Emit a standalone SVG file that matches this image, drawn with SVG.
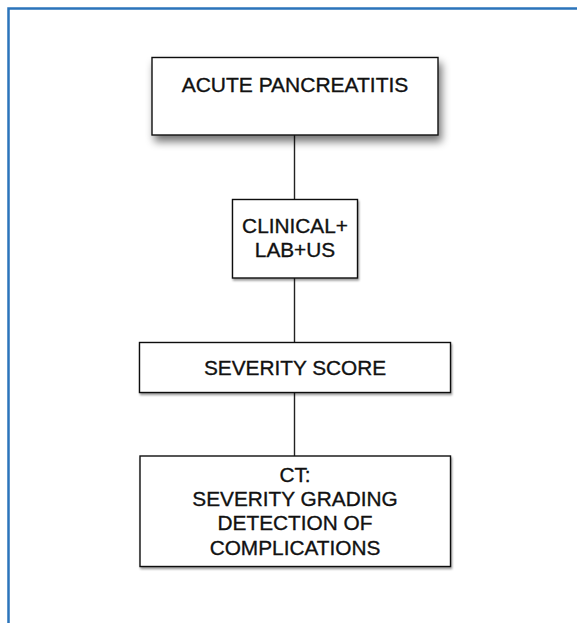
<svg xmlns="http://www.w3.org/2000/svg" width="577" height="623" viewBox="0 0 577 623">
  <defs>
    <filter id="shadowBig" x="-20%" y="-30%" width="140%" height="170%">
      <feGaussianBlur in="SourceAlpha" stdDeviation="4"/>
      <feOffset dx="3" dy="6" result="b"/>
      <feComponentTransfer><feFuncA type="linear" slope="0.55"/></feComponentTransfer>
      <feMerge><feMergeNode/><feMergeNode in="SourceGraphic"/></feMerge>
    </filter>
    <filter id="shadowSmall" x="-10%" y="-10%" width="120%" height="130%">
      <feGaussianBlur in="SourceAlpha" stdDeviation="0.8"/>
      <feOffset dx="1" dy="1.5" result="b"/>
      <feComponentTransfer><feFuncA type="linear" slope="0.4"/></feComponentTransfer>
      <feMerge><feMergeNode/><feMergeNode in="SourceGraphic"/></feMerge>
    </filter>
  </defs>
  <style>
    .box { fill: #ffffff; stroke: #111111; stroke-width: 1.4; }
    .lbl { font-family: "Liberation Sans", Arial, Helvetica, sans-serif; font-size: 20.8px; fill: #111111; stroke: #111111; stroke-width: 0.35; text-anchor: middle; }
    .conn { stroke: #222222; stroke-width: 1.4; fill: none; }
    .frame { stroke: #2b74bb; stroke-width: 2.5; fill: none; }
  </style>
  <rect width="577" height="623" fill="#ffffff"/>
  <!-- page frame -->
  <path class="frame" d="M8.5,623 V8.5 H577"/>

  <g id="connectors">
    <line class="conn" x1="294.5" y1="135" x2="294.5" y2="199.5"/>
    <line class="conn" x1="294.5" y1="278" x2="294.5" y2="342.5"/>
    <line class="conn" x1="294.5" y1="393" x2="294.5" y2="456"/>
  </g>

  <g id="acute-pancreatitis">
    <rect class="box" x="152" y="57.5" width="286" height="77.5" filter="url(#shadowBig)"/>
    <text class="lbl" x="295" y="91.7" style="font-size:21px">ACUTE PANCREATITIS</text>
  </g>

  <g id="clinical-lab-us">
    <rect class="box" x="232.5" y="199.5" width="125" height="78.5" filter="url(#shadowSmall)"/>
    <text class="lbl" x="295" y="232.7">CLINICAL+</text>
    <text class="lbl" x="295" y="256.7">LAB+US</text>
  </g>

  <g id="severity-score">
    <rect class="box" x="139.5" y="342.5" width="311" height="50" filter="url(#shadowSmall)"/>
    <text class="lbl" x="295" y="375">SEVERITY SCORE</text>
  </g>

  <g id="ct">
    <rect class="box" x="140" y="456" width="310.5" height="110.5" filter="url(#shadowSmall)"/>
    <text class="lbl" x="295" y="481.7">CT:</text>
    <text class="lbl" x="295" y="505.9">SEVERITY GRADING</text>
    <text class="lbl" x="295" y="530.2">DETECTION OF</text>
    <text class="lbl" x="295" y="554.8">COMPLICATIONS</text>
  </g>
</svg>
